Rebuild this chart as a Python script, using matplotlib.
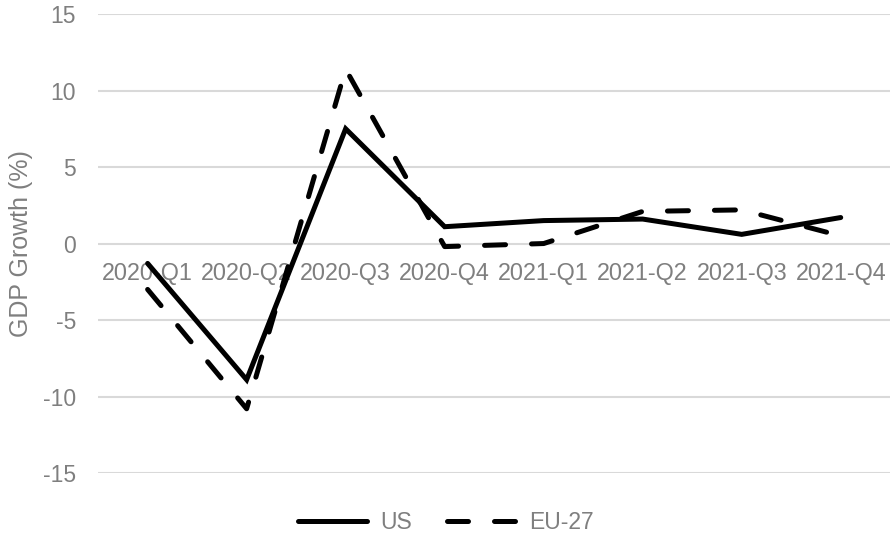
import matplotlib.pyplot as plt

# ------------------------------------------------------------
# Data (quarterly GDP growth, % q/q)
# ------------------------------------------------------------
quarters = ["2020-Q1", "2020-Q2", "2020-Q3", "2020-Q4",
            "2021-Q1", "2021-Q2", "2021-Q3", "2021-Q4"]
us = [-1.3, -8.9, 7.5, 1.1, 1.5, 1.6, 0.6, 1.7]
eu27 = [-3.0, -10.8, 11.4, -0.2, 0.0, 2.1, 2.2, 0.5]

GREY = '#7f7f7f'
plt.rcParams['font.family'] = ['Liberation Sans', 'DejaVu Sans']

fig = plt.figure(figsize=(8.92, 5.4), dpi=100)
ax = fig.add_axes([0.11, 0.124, 0.888, 0.850])

x = range(len(quarters))
ax.plot(x, us, color='black', lw=3.6, solid_capstyle='round',
        solid_joinstyle='miter', label='US', zorder=3)
ax.plot(x, eu27, color='black', lw=3.6, linestyle=(0, (4.2, 5.2)),
        dash_capstyle='round', label='EU-27', zorder=3)

ax.set_xlim(-0.5, len(quarters) - 0.5)
ax.set_ylim(-15, 15)
ax.set_yticks([-15, -10, -5, 0, 5, 10, 15])
ax.set_yticklabels(['-15', '-10', '-5', '0', '5', '10', '15'])
ax.set_xticks(list(x))
ax.set_xticklabels(quarters)

# category axis sits on the zero line
ax.spines['bottom'].set_position(('data', 0))
for s in ['top', 'right', 'left', 'bottom']:
    ax.spines[s].set_visible(False)

ax.yaxis.grid(True, color='#d9d9d9', lw=1.5)
ax.set_axisbelow(True)
ax.tick_params(axis='y', length=0, pad=16, labelsize=16.5, labelcolor=GREY)
ax.tick_params(axis='x', length=0, pad=13, labelsize=16.8, labelcolor=GREY)

ax.set_ylabel("GDP Growth (%)", fontsize=18, color=GREY, labelpad=7)

fig.legend(loc='center', bbox_to_anchor=(0.5, 0.033), ncol=2,
           frameon=False, fontsize=16.5, labelcolor=GREY,
           handlelength=3.0, handletextpad=0.6, columnspacing=1.5)

plt.savefig("out.png", dpi=100)
plt.close()
